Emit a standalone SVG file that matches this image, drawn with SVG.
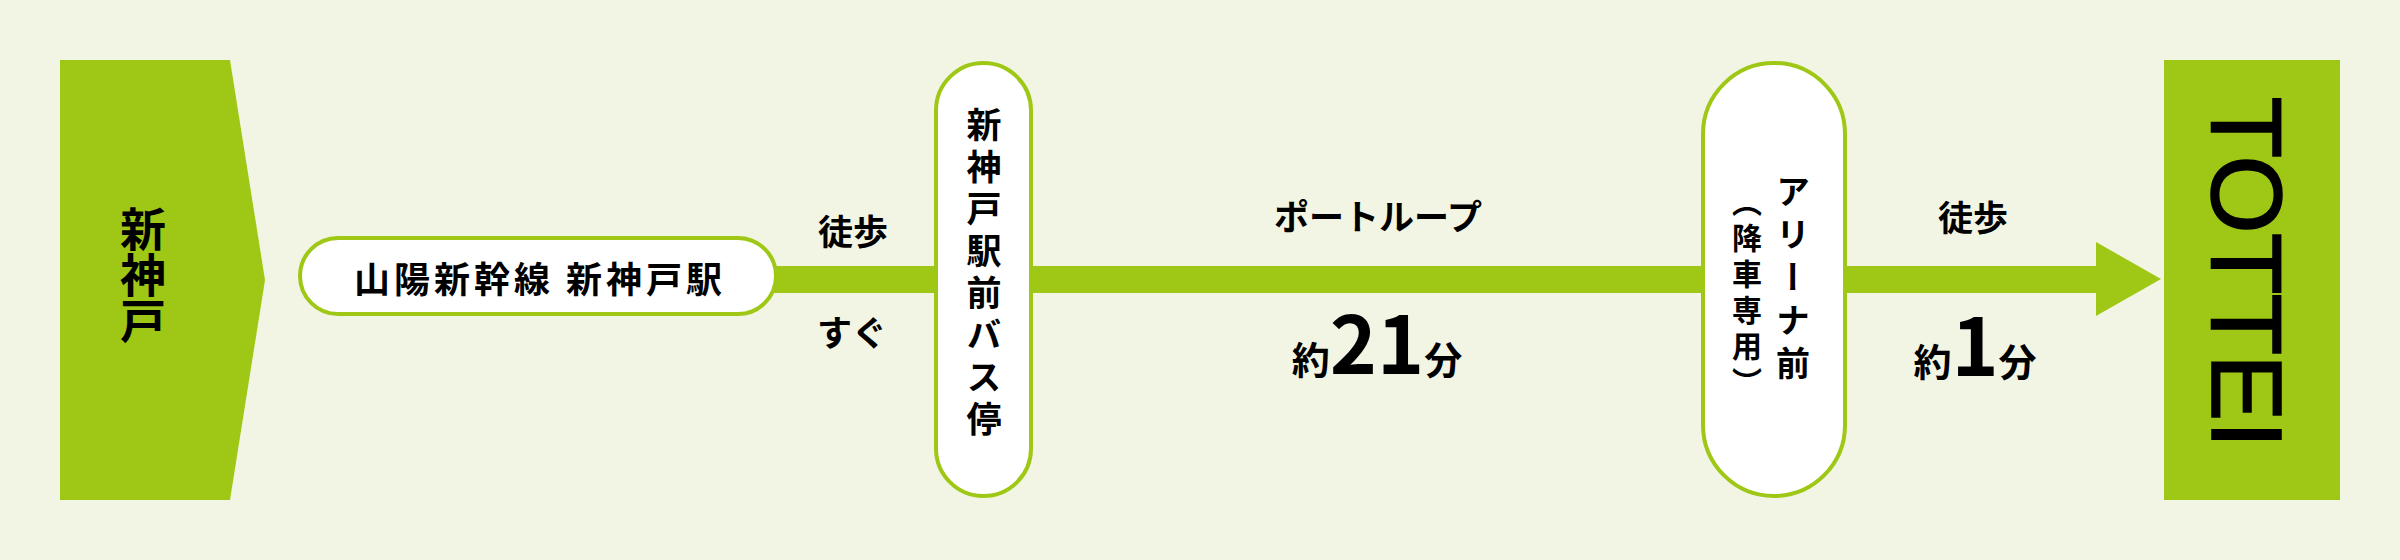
<svg xmlns="http://www.w3.org/2000/svg" width="2400" height="560" viewBox="0 0 2400 560">
  <defs>
    <style>
      .bg { fill: #f2f5e3; }
      .green { fill: #9fc816; }
      .pill { fill: #ffffff; stroke: #9fc816; stroke-width: 4; }
      .jp { font-family: "Noto Sans CJK JP", "Noto Sans", sans-serif; font-weight: 700; fill: #000000; }
      .vert { writing-mode: vertical-rl; dominant-baseline: central; }
      .lbl { font-size: 35px; text-anchor: middle; dominant-baseline: central; }
    </style>
  </defs>
  <rect class="bg" x="0" y="0" width="2400" height="560"/>

  <g id="connectors">
    <path class="green" d="M 760 266 L 2096 266 L 2096 242 L 2161 279 L 2096 316 L 2096 293 L 760 293 Z"/>
  </g>

  <g id="node-shinkobe">
    <polygon class="green" points="60,60 230,60 265,280 230,500 60,500"/>
    <text class="jp vert" x="143" y="206" font-size="46">新神戸</text>
  </g>

  <g id="node-sanyo">
    <rect class="pill" x="300" y="238" width="476" height="76" rx="38" ry="38"/>
    <text class="jp" x="540" y="277" font-size="36" text-anchor="middle" dominant-baseline="central" letter-spacing="4">山陽新幹線 新神戸駅</text>
  </g>

  <g id="node-busstop">
    <rect class="pill" x="936" y="63" width="95" height="433" rx="47.5" ry="47.5"/>
    <text class="jp vert" x="984" y="107" font-size="35" letter-spacing="7">新神戸駅前バス停</text>
  </g>

  <g id="node-arena">
    <rect class="pill" x="1703" y="63" width="142" height="433" rx="71" ry="71"/>
    <text class="jp vert" x="1793" y="174" font-size="34" letter-spacing="9">アリーナ前</text>
    <text class="jp vert" x="1747" y="187" font-size="30" letter-spacing="6">（降車専用）</text>
  </g>

  <g id="node-tottei">
    <rect class="green" x="2164" y="60" width="176" height="440"/>
    <text transform="translate(2212 272.5) rotate(90)" x="0" y="0" font-family="Liberation Sans, Arial, sans-serif" font-size="101" text-anchor="middle" textLength="352" lengthAdjust="spacing" fill="#000000" stroke="#000000" stroke-width="1.6">TOTTEI</text>
  </g>

  <g id="labels">
    <text class="jp lbl" x="853" y="229">徒歩</text>
    <text class="jp lbl" x="852" y="330">すぐ</text>
    <text class="jp lbl" x="1378" y="214">ポートループ</text>
    <text class="jp" x="1377" y="374" text-anchor="middle"><tspan font-size="38">約</tspan><tspan font-size="80">21</tspan><tspan font-size="38">分</tspan></text>
    <text class="jp lbl" x="1973" y="215">徒歩</text>
    <text class="jp" x="1975" y="376" text-anchor="middle"><tspan font-size="38">約</tspan><tspan font-size="80">1</tspan><tspan font-size="38">分</tspan></text>
  </g>
</svg>
